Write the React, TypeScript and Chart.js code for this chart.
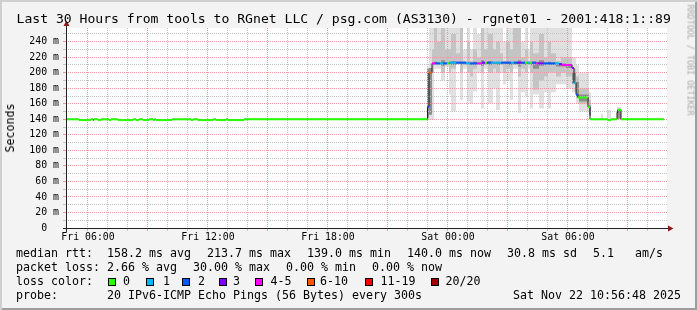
import React, { useEffect, useRef } from 'react';
import { Chart, registerables } from 'chart.js';

Chart.register(...registerables);

// x values are hours counted from Fri 00:00
const X_MIN = 4.95; // Fri 04:57
const X_MAX = 34.95; // Sat 10:57
const Y_MAX = 257.6;

const xTickHours = [6, 12, 18, 24, 30];
const xTickLabels = ['Fri 06:00', 'Fri 12:00', 'Fri 18:00', 'Sat 00:00', 'Sat 06:00'];
const yTickValues = [0, 20, 40, 60, 80, 100, 120, 140, 160, 180, 200, 220, 240];
const yTickLabels = ['0  ', '20 m', '40 m', '60 m', '80 m', '100 m', '120 m', '140 m', '160 m', '180 m', '200 m', '220 m', '240 m'];
const X_GRID_STEP = 1; // hours, major every 3
const Y_GRID_STEP = 10; // ms, major every 20

// median rtt (ms): start time of each step (last entry = end of data)
const medianTimes = [
  4.95, 5.55, 6.15, 6.25, 6.3, 6.5, 6.65, 7.05, 7.15, 7.5, 8.25, 8.4, 8.55, 8.75, 9.05, 9.25, 9.33, 9.4,
  10.2, 11.15, 11.25, 11.5, 12.25, 12.4, 12.9, 13.0, 13.8,
  22.975, 23.05, 23.2, 23.35, 23.6, 23.75, 23.95, 24.05, 24.4, 24.9,
  25.1, 25.45, 25.7, 25.85, 25.95, 26.15, 26.65, 27.15, 27.3, 27.45,
  27.65, 27.85, 27.95, 28.1, 28.2, 28.4, 28.5, 28.75, 29.35, 29.55,
  29.7, 30.2, 30.3, 30.4, 30.5, 31.0, 31.1, 32.0, 32.15, 32.45,
  32.5, 32.65, 34.8,
];
const medianValues = [
  140, 139, 140, 139, 140, 139, 140, 139, 140, 139, 140, 139, 140, 139, 140, 139, 140, 139,
  140, 139, 140, 139, 140, 139, 140, 139, 140,
  156, 200, 212, 212, 212, 212, 212, 213, 213, 212,
  212, 212, 213, 213, 213, 213, 213, 213, 213, 213,
  213, 213, 213, 213, 213, 212, 212, 212, 212, 211,
  210, 206, 187, 172, 168, 156, 140, 139, 140, 149,
  152, 140,
];
// lost pings (of 20) per step
const medianLoss = [
  0, 0, 0, 0, 0, 0, 0, 0, 0, 0, 0, 0, 0, 0, 0, 0, 0, 0,
  0, 0, 0, 0, 0, 0, 0, 0, 0,
  2, 6, 4, 2, 1, 2, 0, 1, 2, 1,
  2, 4, 3, 0, 2, 1, 2, 1, 2, 3,
  2, 0, 1, 0, 2, 4, 3, 2, 1, 3,
  5, 3, 1, 2, 0, 0, 0, 0, 0, 0,
  0, 0,
];

// smoke (ping spread) columns
const smokeTimes = [
  22.95, 23.05, 23.2, 23.3, 23.45, 23.65, 23.85, 24.05, 24.15, 24.4,
  24.6, 24.75, 24.95, 25.1, 25.25, 25.45, 25.65, 25.8, 26.0, 26.25,
  26.4, 26.6, 26.75, 26.9, 27.1, 27.25, 27.5, 27.65, 27.85, 28.0,
  28.1, 28.25, 28.55, 28.8, 29.0, 29.15, 29.4, 29.65, 29.9, 30.2,
  30.4, 30.55, 31.05, 31.15, 31.65, 31.75, 31.95, 32.15, 32.45, 32.65,
  34.8,
];
const smokeOuterHi = [
  208, 290, 290, 290, 290, 290, 290, 270, 290, 290,
  290, 230, 290, 230, 290, 250, 290, 290, 290, 290,
  290, 290, 240, 290, 290, 290, 290, 240, 290, 230,
  290, 290, 290, 290, 290, 290, 290, 290, 280, 220,
  210, 200, 175, 140, 147, 140, 152, 140, 156, 140,
];
const smokeOuterLo = [
  140, 139, 139, 205, 205, 190, 207, 172, 150, 210,
  165, 205, 163, 160, 176, 200, 154, 205, 161, 180,
  152, 200, 185, 190, 165, 205, 148, 175, 170, 205,
  154, 172, 154, 175, 154, 175, 185, 185, 180, 175,
  160, 150, 145, 140, 140, 140, 138, 140, 140, 140,
];
const smokeInnerHi = [
  205, 206, 230, 260, 240, 290, 230, 230, 250, 225,
  260, 215, 240, 215, 230, 220, 290, 230, 250, 230,
  240, 225, 215, 240, 230, 260, 290, 220, 230, 215,
  240, 225, 250, 220, 240, 225, 215, 220, 220, 205,
  195, 180, 165, 140, 140, 140, 140, 140, 154, 140,
];
const smokeInnerLo = [
  142, 150, 200, 210, 210, 200, 210, 200, 205, 212,
  200, 210, 200, 195, 205, 210, 200, 210, 200, 205,
  200, 210, 200, 205, 200, 210, 195, 205, 200, 210,
  200, 178, 190, 195, 200, 200, 195, 200, 195, 185,
  170, 160, 145, 140, 140, 140, 140, 140, 140, 140,
];
const smokeCoreHi = [
  205, 206, 212, 214, 212, 216, 212, 214, 215, 213,
  214, 212, 214, 212, 214, 212, 216, 213, 215, 213,
  214, 213, 212, 214, 213, 214, 216, 213, 214, 213,
  214, 214, 216, 213, 214, 213, 212, 212, 210, 200,
  188, 172, 158, 140, 140, 140, 140, 140, 153, 140,
];
const smokeCoreLo = [
  142, 146, 210, 211, 211, 209, 211, 211, 210, 212,
  210, 211, 210, 210, 210, 211, 209, 211, 210, 211,
  210, 211, 211, 210, 210, 211, 208, 211, 210, 211,
  210, 205, 209, 210, 210, 210, 208, 208, 206, 186,
  168, 163, 145, 140, 140, 140, 140, 140, 141, 140,
];

const lossLabels = ['0', '1', '2', '3', '4-5', '6-10', '11-19', '20/20'];
const lossColors = ['#26ff00', '#00b8ff', '#0059ff', '#7e00ff', '#ff00ff', '#ff5500', '#ff0000', '#a10000'];

const lossIndex = (n: number) => (n <= 3 ? n : n <= 5 ? 4 : n <= 10 ? 5 : n <= 19 ? 6 : 7);

const MAJOR = '#e99a9a';
const MINOR = '#c2c2c2';
const MONO = '"DejaVu Sans Mono", monospace';

function stepData(times: number[], values: number[]) {
  const pts = values.map((v, i) => ({ x: times[i], y: v }));
  pts.push({ x: times[times.length - 1], y: values[values.length - 1] });
  return pts;
}

function coloredMedian() {
  const pts: { x: number; y: number }[] = [];
  medianValues.forEach((v, i) => {
    pts.push({ x: medianTimes[i], y: v });
    pts.push({ x: medianTimes[i + 1], y: v });
  });
  return pts;
}

const decor = {
  id: 'decor',
  beforeDraw(chart: any) {
    const { ctx, chartArea: a } = chart;
    ctx.save();
    ctx.fillStyle = '#ffffff';
    ctx.fillRect(a.left, a.top, a.right - a.left, a.bottom - a.top);
    ctx.restore();
  },
  // dotted rrdtool-style grid: above the smoke, below the median line
  beforeDatasetDraw(chart: any, args: any) {
    if (args.index !== 1) return;
    const { ctx, chartArea: a, scales } = chart;
    ctx.save();
    for (let h = Math.ceil(X_MIN); h <= X_MAX; h += X_GRID_STEP) {
      const px = Math.floor(scales.x.getPixelForValue(h) - 0.5);
      if (px <= a.left) continue;
      ctx.fillStyle = h % 3 === 0 ? MAJOR : MINOR;
      for (let y = a.top; y < a.bottom; y += 2) ctx.fillRect(px, y, 1, 1);
      ctx.fillRect(px, a.bottom + 1, 1, 2);
    }
    for (let v = Y_GRID_STEP; v <= Y_MAX; v += Y_GRID_STEP) {
      const py = Math.floor(scales.y.getPixelForValue(v));
      ctx.fillStyle = v % 20 === 0 ? MAJOR : MINOR;
      for (let x = a.left + 1; x < a.right; x += 2) ctx.fillRect(x, py, 1, 1);
      ctx.fillRect(a.left - 4, py, 3, 1);
    }
    ctx.restore();
  },
  afterDraw(chart: any) {
    const { ctx, chartArea: a } = chart;
    ctx.save();
    ctx.strokeStyle = '#222';
    ctx.lineWidth = 1;
    ctx.beginPath();
    ctx.moveTo(a.left - 4, a.bottom + 0.5);
    ctx.lineTo(a.right + 2, a.bottom + 0.5);
    ctx.moveTo(a.left - 0.5, a.bottom + 4);
    ctx.lineTo(a.left - 0.5, a.top - 3);
    ctx.stroke();
    ctx.fillStyle = '#8c1a1a';
    ctx.beginPath();
    ctx.moveTo(a.right + 1, a.bottom - 2.5);
    ctx.lineTo(a.right + 6.5, a.bottom + 0.5);
    ctx.lineTo(a.right + 1, a.bottom + 3.5);
    ctx.closePath();
    ctx.fill();
    ctx.beginPath();
    ctx.moveTo(a.left - 3.5, a.top - 2);
    ctx.lineTo(a.left - 0.5, a.top - 7.5);
    ctx.lineTo(a.left + 2.5, a.top - 2);
    ctx.closePath();
    ctx.fill();
    ctx.restore();
  },
};

function Txt({ x, b, size, children, color }: { x: number; b: number; size: number; children: any; color?: string }) {
  return (
    <div
      style={{
        position: 'absolute',
        left: x,
        top: b - 0.846 * size,
        fontSize: size,
        lineHeight: `${size}px`,
        whiteSpace: 'pre',
        color: color || '#000',
      }}
    >
      {children}
    </div>
  );
}

function Swatch({ x, color }: { x: number; color: string }) {
  return (
    <div
      style={{
        position: 'absolute',
        left: x,
        top: 278,
        width: 8,
        height: 8,
        boxSizing: 'border-box',
        border: '1px solid #000',
        background: color,
      }}
    />
  );
}

const swatchX = [108, 145.5, 182, 218.5, 255, 306.5, 365, 431];
const swatchTextX = [123, 163, 198, 233, 270.5, 320, 380.5, 445.5];

export default function App() {
  const ref = useRef<HTMLCanvasElement>(null);

  useEffect(() => {
    const smokeDs = (hi: number[], lo: number[], color: string, order: number) => [
      {
        data: stepData(smokeTimes, hi),
        stepped: true,
        borderWidth: 0,
        pointRadius: 0,
        fill: false,
        order,
      },
      {
        data: stepData(smokeTimes, lo),
        stepped: true,
        borderWidth: 0,
        pointRadius: 0,
        fill: '-1',
        backgroundColor: color,
        order,
      },
    ];

    const chart = new Chart(ref.current as HTMLCanvasElement, {
      type: 'line',
      data: {
        datasets: [
          {
            data: coloredMedian(),
            borderWidth: 2,
            pointRadius: 0,
            fill: false,
            borderCapStyle: 'butt',
            order: 0,
            segment: {
              borderColor: (ctx: any) =>
                ctx.p0DataIndex % 2 === 0
                  ? lossColors[lossIndex(medianLoss[ctx.p0DataIndex / 2])]
                  : 'rgba(0,0,0,0)',
            },
          },
          {
            data: stepData(medianTimes, medianValues),
            stepped: true,
            borderWidth: 1,
            borderColor: '#1e1e1e',
            pointRadius: 0,
            fill: false,
            order: 1,
          },
          ...smokeDs(smokeCoreHi, smokeCoreLo, '#8e8e8e', 2),
          ...smokeDs(smokeInnerHi, smokeInnerLo, '#c4c4c4', 3),
          ...smokeDs(smokeOuterHi, smokeOuterLo, '#e0e0e0', 4),
        ] as any,
      },
      options: {
        animation: false,
        responsive: false,
        devicePixelRatio: 1,
        events: [],
        layout: { padding: { left: 0, top: 28, right: 30, bottom: 0 } },
        plugins: { legend: { display: false }, tooltip: { enabled: false } },
        scales: {
          x: {
            type: 'linear',
            min: X_MIN,
            max: X_MAX,
            afterFit: (s: any) => {
              s.height = 82;
            },
            afterBuildTicks: (s: any) => {
              s.ticks = xTickHours.map((h) => ({ value: h }));
            },
            border: { display: false },
            grid: { color: 'rgba(0,0,0,0)', tickLength: 3, drawTicks: true },
            ticks: {
              autoSkip: false,
              maxRotation: 0,
              padding: 1,
              color: '#000',
              font: { family: MONO, size: 9.85 },
              callback: (v: any) => {
                const i = xTickHours.indexOf(Math.round(Number(v)));
                return i >= 0 ? xTickLabels[i] : '';
              },
            },
          },
          y: {
            type: 'linear',
            min: 0,
            max: Y_MAX,
            afterFit: (s: any) => {
              s.width = 67;
            },
            afterBuildTicks: (s: any) => {
              s.ticks = yTickValues.map((v) => ({ value: v }));
            },
            border: { display: false },
            grid: { color: 'rgba(0,0,0,0)', tickLength: 3, drawTicks: true },
            ticks: {
              autoSkip: false,
              padding: 5,
              color: '#000',
              font: { family: MONO, size: 9.85 },
              callback: (v: any) => {
                const i = yTickValues.indexOf(Math.round(Number(v)));
                return i >= 0 ? yTickLabels[i] : '';
              },
            },
          },
        },
      } as any,
      plugins: [decor],
    });
    return () => chart.destroy();
  }, []);

  const F = 11.63;
  return (
    <div
      style={{
        position: 'fixed',
        left: 0,
        top: 0,
        width: 697,
        height: 310,
        background: '#f3f3f3',
        boxShadow: 'inset 2px 2px 0 #cfcfcf, inset -2px -2px 0 #9e9e9e',
        fontFamily: MONO,
        overflow: 'hidden',
      }}
    >
      <canvas ref={ref} width={697} height={310} style={{ position: 'absolute', left: 0, top: 0 }} />
      <Txt x={16.5} b={23.3} size={13.1}>
        Last 30 Hours from tools to RGnet LLC / psg.com (AS3130) - rgnet01 - 2001:418:1::89
      </Txt>
      <div
        style={{
          position: 'absolute',
          left: 10,
          top: 128,
          transform: 'translate(-50%,-50%) rotate(-90deg)',
          fontSize: F,
          lineHeight: '12px',
          whiteSpace: 'pre',
          color: '#000',
        }}
      >
        Seconds
      </div>
      <div
        style={{
          position: 'absolute',
          left: 689.5,
          top: 60,
          transform: 'translate(-50%,-50%) rotate(90deg)',
          fontSize: 8.4,
          lineHeight: '9px',
          whiteSpace: 'pre',
          color: '#a8a8a8',
        }}
      >
        RRDTOOL / TOBI OETIKER
      </div>

      <Txt x={16} b={258.3} size={F}>median rtt:</Txt>
      <Txt x={107} b={258.3} size={F}>158.2 ms avg</Txt>
      <Txt x={207} b={258.3} size={F}>213.7 ms max</Txt>
      <Txt x={307} b={258.3} size={F}>139.0 ms min</Txt>
      <Txt x={407} b={258.3} size={F}>140.0 ms now</Txt>
      <Txt x={507} b={258.3} size={F}>30.8 ms sd</Txt>
      <Txt x={593} b={258.3} size={F}>5.1   am/s</Txt>

      <Txt x={16} b={272.3} size={F}>packet loss:</Txt>
      <Txt x={107} b={272.3} size={F}>2.66 % avg</Txt>
      <Txt x={193} b={272.3} size={F}>30.00 % max</Txt>
      <Txt x={286} b={272.3} size={F}>0.00 % min</Txt>
      <Txt x={372} b={272.3} size={F}>0.00 % now</Txt>

      <Txt x={16} b={286.1} size={F}>loss color:</Txt>
      {lossLabels.map((l, i) => (
        <React.Fragment key={l}>
          <Swatch x={swatchX[i]} color={lossColors[i]} />
          <Txt x={swatchTextX[i]} b={286.1} size={F}>{l}</Txt>
        </React.Fragment>
      ))}

      <Txt x={16} b={300} size={F}>probe:</Txt>
      <Txt x={107} b={300} size={F}>20 IPv6-ICMP Echo Pings (56 Bytes) every 300s</Txt>
      <Txt x={513} b={300} size={F}>Sat Nov 22 10:56:48 2025</Txt>
    </div>
  );
}
